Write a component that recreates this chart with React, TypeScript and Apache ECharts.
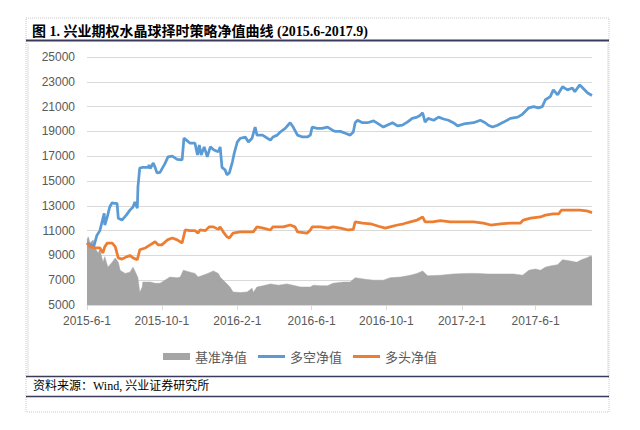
import React, { useEffect, useRef } from "react";
import * as echarts from "echarts";

const START_DAY = "2015-06-01";
const END_DAY = "2017-09-01";
const xTickLabels = ["2015-6-1", "2015-10-1", "2016-2-1", "2016-6-1", "2016-10-1", "2017-2-1", "2017-6-1"];
const seriesNames = ["基准净值", "多空净值", "多头净值"];

const benchmark: [string, number][] = [
  ["2015-06-01", 10250], ["2015-06-03", 10500], ["2015-06-06", 10000], ["2015-06-11", 10250], ["2015-06-14", 9600],
  ["2015-06-19", 9200], ["2015-06-22", 9450], ["2015-06-27", 8450], ["2015-06-30", 8900], ["2015-07-05", 8050],
  ["2015-07-12", 8450], ["2015-07-17", 8800], ["2015-07-22", 8450], ["2015-07-25", 7800], ["2015-08-02", 7550],
  ["2015-08-10", 7650], ["2015-08-15", 8050], ["2015-08-20", 7550], ["2015-08-23", 7200], ["2015-08-26", 6000],
  ["2015-08-30", 6450], ["2015-08-31", 6850], ["2015-09-12", 6850], ["2015-09-20", 6750], ["2015-09-28", 6750],
  ["2015-10-06", 7000], ["2015-10-14", 7250], ["2015-10-26", 7200], ["2015-10-31", 7250], ["2015-11-05", 7800],
  ["2015-11-16", 7650], ["2015-11-24", 7550], ["2015-11-29", 7250], ["2015-12-07", 7400], ["2015-12-15", 7550],
  ["2015-12-24", 7750], ["2016-01-01", 7550], ["2016-01-04", 7250], ["2016-01-12", 6850], ["2016-01-20", 6450],
  ["2016-01-25", 6050], ["2016-02-06", 6000], ["2016-02-17", 6050], ["2016-02-25", 6350], ["2016-02-27", 6000],
  ["2016-03-04", 6450], ["2016-03-14", 6550], ["2016-03-26", 6700], ["2016-04-08", 6600], ["2016-04-22", 6700],
  ["2016-05-05", 6550], ["2016-05-14", 6450], ["2016-05-30", 6450], ["2016-06-04", 6600], ["2016-06-15", 6550],
  ["2016-06-27", 6550], ["2016-07-06", 6750], ["2016-07-23", 6850], ["2016-08-03", 6850], ["2016-08-11", 7200],
  ["2016-08-24", 7100], ["2016-09-10", 7000], ["2016-09-26", 7000], ["2016-10-07", 7200], ["2016-10-24", 7250],
  ["2016-11-09", 7400], ["2016-11-20", 7550], ["2016-11-29", 7750], ["2016-12-07", 7350], ["2016-12-28", 7400],
  ["2017-01-18", 7500], ["2017-02-10", 7550], ["2017-02-26", 7550], ["2017-03-15", 7500], ["2017-04-05", 7500],
  ["2017-04-26", 7500], ["2017-05-11", 7400], ["2017-05-21", 7800], ["2017-06-01", 7900], ["2017-06-09", 7800],
  ["2017-06-17", 8050], ["2017-06-25", 8150], ["2017-07-07", 8250], ["2017-07-15", 8650], ["2017-07-28", 8550],
  ["2017-08-07", 8450], ["2017-08-15", 8650], ["2017-08-23", 8800], ["2017-08-30", 8950], ["2017-09-01", 8900],
];

const longShort: [string, number][] = [
  ["2015-06-01", 10000], ["2015-06-12", 9700], ["2015-06-17", 10600], ["2015-06-22", 11000], ["2015-06-29", 12400],
  ["2015-06-30", 11450], ["2015-07-04", 12100], ["2015-07-08", 12900], ["2015-07-12", 13250], ["2015-07-15", 13200],
  ["2015-07-20", 13200], ["2015-07-22", 12000], ["2015-07-28", 11850], ["2015-08-04", 12250], ["2015-08-10", 12650],
  ["2015-08-15", 12900], ["2015-08-18", 13300], ["2015-08-22", 12800], ["2015-08-23", 14500], ["2015-08-26", 16050],
  ["2015-08-31", 16100], ["2015-09-09", 16100], ["2015-09-10", 16300], ["2015-09-12", 16000], ["2015-09-17", 16450],
  ["2015-09-20", 16100], ["2015-09-23", 15650], ["2015-09-28", 15700], ["2015-10-06", 16400], ["2015-10-11", 16950],
  ["2015-10-18", 17000], ["2015-10-26", 16750], ["2015-11-03", 16700], ["2015-11-06", 18450], ["2015-11-10", 18300],
  ["2015-11-16", 18050], ["2015-11-24", 18050], ["2015-11-28", 17100], ["2015-12-01", 17900], ["2015-12-04", 17100],
  ["2015-12-09", 17750], ["2015-12-14", 16950], ["2015-12-19", 17750], ["2015-12-25", 17500], ["2016-01-01", 17350],
  ["2016-01-04", 17750], ["2016-01-07", 16100], ["2016-01-12", 15900], ["2016-01-15", 15500], ["2016-01-19", 15650],
  ["2016-01-24", 16550], ["2016-01-27", 17250], ["2016-02-01", 18150], ["2016-02-06", 18450], ["2016-02-14", 18550],
  ["2016-02-19", 18150], ["2016-02-25", 18450], ["2016-03-01", 19350], ["2016-03-04", 18700], ["2016-03-13", 18700],
  ["2016-03-21", 18450], ["2016-03-26", 18300], ["2016-03-30", 18550], ["2016-04-06", 18700], ["2016-04-11", 18950],
  ["2016-04-19", 19250], ["2016-04-27", 19700], ["2016-05-02", 19350], ["2016-05-09", 18700], ["2016-05-17", 18550],
  ["2016-05-25", 18550], ["2016-05-30", 18700], ["2016-06-02", 19350], ["2016-06-10", 19250], ["2016-06-18", 19250],
  ["2016-06-27", 19350], ["2016-07-05", 19100], ["2016-07-10", 19000], ["2016-07-18", 19000], ["2016-07-26", 18850],
  ["2016-08-03", 18700], ["2016-08-08", 18950], ["2016-08-11", 19700], ["2016-08-15", 19900], ["2016-08-23", 19700],
  ["2016-08-31", 19700], ["2016-09-10", 19850], ["2016-09-18", 19600], ["2016-09-26", 19350], ["2016-10-02", 19500],
  ["2016-10-11", 19700], ["2016-10-19", 19450], ["2016-10-27", 19500], ["2016-11-04", 19750], ["2016-11-12", 20050],
  ["2016-11-20", 20150], ["2016-11-25", 20300], ["2016-11-29", 20500], ["2016-12-03", 19750], ["2016-12-08", 20050],
  ["2016-12-17", 19900], ["2016-12-25", 20150], ["2017-01-02", 20000], ["2017-01-10", 19900], ["2017-01-18", 19700],
  ["2017-01-25", 19450], ["2017-02-04", 19600], ["2017-02-20", 19700], ["2017-03-03", 19900], ["2017-03-11", 19700],
  ["2017-03-16", 19500], ["2017-03-23", 19350], ["2017-03-31", 19500], ["2017-04-10", 19750], ["2017-04-21", 20050],
  ["2017-05-03", 20150], ["2017-05-11", 20400], ["2017-05-21", 20900], ["2017-05-29", 21000], ["2017-06-06", 20900],
  ["2017-06-12", 21000], ["2017-06-17", 21550], ["2017-06-25", 21800], ["2017-06-30", 22350], ["2017-07-07", 21950],
  ["2017-07-15", 22600], ["2017-07-23", 22350], ["2017-07-31", 22500], ["2017-08-04", 22200], ["2017-08-12", 22750],
  ["2017-08-17", 22500], ["2017-08-25", 22100], ["2017-09-01", 21900],
];

const longOnly: [string, number][] = [
  ["2015-06-01", 10000], ["2015-06-06", 9700], ["2015-06-14", 9600], ["2015-06-22", 9600], ["2015-06-27", 9200],
  ["2015-06-30", 9700], ["2015-07-04", 10000], ["2015-07-12", 10000], ["2015-07-17", 9700], ["2015-07-22", 8800],
  ["2015-07-28", 8700], ["2015-08-05", 8900], ["2015-08-10", 9000], ["2015-08-15", 8800], ["2015-08-22", 8650],
  ["2015-08-26", 9450], ["2015-09-04", 9600], ["2015-09-12", 9850], ["2015-09-20", 10100], ["2015-09-25", 9850],
  ["2015-10-01", 9850], ["2015-10-10", 10250], ["2015-10-18", 10400], ["2015-10-26", 10250], ["2015-11-03", 10000],
  ["2015-11-08", 11050], ["2015-11-16", 11000], ["2015-11-24", 11000], ["2015-11-29", 10800], ["2015-12-02", 11050],
  ["2015-12-11", 11000], ["2015-12-17", 11300], ["2015-12-24", 11300], ["2016-01-01", 11100], ["2016-01-04", 11300],
  ["2016-01-09", 10900], ["2016-01-15", 10500], ["2016-01-19", 10400], ["2016-01-25", 10800], ["2016-02-06", 10900],
  ["2016-02-17", 10900], ["2016-02-27", 10900], ["2016-03-04", 11300], ["2016-03-14", 11200], ["2016-03-26", 11050],
  ["2016-03-30", 11300], ["2016-04-16", 11300], ["2016-04-27", 11450], ["2016-05-05", 11300], ["2016-05-09", 10900],
  ["2016-05-25", 10800], ["2016-05-30", 11050], ["2016-06-02", 11300], ["2016-06-15", 11300], ["2016-06-28", 11200],
  ["2016-07-06", 11300], ["2016-07-18", 11200], ["2016-07-31", 11050], ["2016-08-08", 11100], ["2016-08-11", 11700],
  ["2016-08-23", 11600], ["2016-09-05", 11550], ["2016-09-18", 11350], ["2016-09-29", 11200], ["2016-10-07", 11300],
  ["2016-10-19", 11450], ["2016-10-29", 11550], ["2016-11-09", 11700], ["2016-11-20", 11850], ["2016-11-29", 12100],
  ["2016-12-03", 11700], ["2016-12-15", 11700], ["2016-12-28", 11800], ["2017-01-13", 11700], ["2017-01-30", 11700],
  ["2017-02-20", 11700], ["2017-03-08", 11600], ["2017-03-20", 11450], ["2017-04-05", 11550], ["2017-04-21", 11600],
  ["2017-05-07", 11600], ["2017-05-12", 11850], ["2017-05-24", 12000], ["2017-06-09", 12100], ["2017-06-17", 12250],
  ["2017-06-30", 12350], ["2017-07-09", 12350], ["2017-07-13", 12650], ["2017-07-28", 12650], ["2017-08-12", 12650],
  ["2017-08-23", 12600], ["2017-09-01", 12450],
];

function buildDays(start: string, end: string): string[] {
  const out: string[] = [];
  let t = Date.parse(start + "T00:00:00Z");
  const e = Date.parse(end + "T00:00:00Z");
  while (t <= e) {
    out.push(new Date(t).toISOString().slice(0, 10));
    t += 86400000;
  }
  return out;
}

function fmtDay(v: string): string {
  const [y, m, d] = v.split("-");
  return `${y}-${+m}-${+d}`;
}

const LINE_ICON = "path://M0,0M27,7M0,2H27V5H0Z";

export default function App() {
  const ref = useRef<HTMLDivElement>(null);
  useEffect(() => {
    if (!ref.current) return;
    const chart = echarts.init(ref.current, undefined, { renderer: "svg" });
    const days = buildDays(START_DAY, END_DAY);
    const tickSet = new Set(xTickLabels);
    const showTick = (_i: number, v: string) => tickSet.has(fmtDay(v));
    const axisFont = '"Liberation Sans", "Noto Sans", sans-serif';
    chart.setOption({
      animation: false,
      backgroundColor: "#ffffff",
      grid: { left: 87, right: 48, top: 57, bottom: 125, containLabel: false },
      xAxis: {
        type: "category",
        data: days,
        boundaryGap: false,
        axisLine: { lineStyle: { color: "#d9d9d9", width: 1 } },
        axisTick: { show: true, interval: showTick, length: 5, lineStyle: { color: "#d9d9d9" } },
        axisLabel: {
          interval: showTick,
          formatter: (v: string) => fmtDay(v),
          color: "#595959",
          fontSize: 12,
          fontFamily: axisFont,
          margin: 10,
        },
        splitLine: { show: false },
      },
      yAxis: {
        type: "value",
        min: 5000,
        max: 25000,
        interval: 2000,
        axisLine: { show: false },
        axisTick: { show: false },
        axisLabel: {
          color: "#595959",
          fontSize: 12,
          fontFamily: axisFont,
          margin: 12,
          formatter: (v: number) => String(v),
        },
        splitLine: { lineStyle: { color: "#d9d9d9", width: 1 } },
      },
      legend: {
        left: 158,
        top: 345,
        itemWidth: 27,
        itemHeight: 7,
        itemGap: 11,
        textStyle: { color: "#595959", fontSize: 13, fontFamily: '"Noto Sans CJK SC", sans-serif' },
        data: [
          { name: seriesNames[0], icon: "rect" },
          { name: seriesNames[1], icon: LINE_ICON },
          { name: seriesNames[2], icon: LINE_ICON },
        ],
      },
      series: [
        {
          name: seriesNames[0],
          type: "line",
          data: benchmark,
          showSymbol: false,
          symbol: "none",
          lineStyle: { width: 0.5, color: "#a5a5a5" },
          itemStyle: { color: "#a5a5a5" },
          areaStyle: { color: "#a5a5a5", opacity: 1, origin: "start" },
        },
        {
          name: seriesNames[1],
          type: "line",
          data: longShort,
          showSymbol: false,
          symbol: "none",
          lineStyle: { width: 2.75, color: "#5b9bd5" },
          itemStyle: { color: "#5b9bd5" },
        },
        {
          name: seriesNames[2],
          type: "line",
          data: longOnly,
          showSymbol: false,
          symbol: "none",
          lineStyle: { width: 2.75, color: "#ed7d31" },
          itemStyle: { color: "#ed7d31" },
        },
      ],
      graphic: [
        {
          type: "rect",
          shape: { x: 26, y: 18, width: 583, height: 394 },
          style: { fill: "none", stroke: "#c8c8c8", lineWidth: 1, lineDash: [1, 1] },
          silent: true,
        },
        {
          type: "text",
          x: 32,
          y: 31,
          style: {
            text: "图 1. 兴业期权水晶球择时策略净值曲线 (2015.6-2017.9)",
            font: 'bold 14px "Liberation Serif", "Noto Sans CJK SC", serif',
            fill: "#000000",
            verticalAlign: "middle",
          },
        },
        {
          type: "line",
          shape: { x1: 26, y1: 40.5, x2: 609, y2: 40.5 },
          style: { stroke: "#3a3a5a", lineWidth: 2 },
        },
        {
          type: "line",
          shape: { x1: 28, y1: 43, x2: 28, y2: 375 },
          style: { stroke: "#e0e0e0", lineWidth: 1 },
        },
        {
          type: "line",
          shape: { x1: 608, y1: 43, x2: 608, y2: 375 },
          style: { stroke: "#e0e0e0", lineWidth: 1 },
        },
        {
          type: "line",
          shape: { x1: 26, y1: 376.5, x2: 609, y2: 376.5 },
          style: { stroke: "#3a3a5a", lineWidth: 1.5 },
        },
        {
          type: "text",
          x: 33,
          y: 386,
          style: {
            text: "资料来源：Wind, 兴业证券研究所",
            font: '12px "Liberation Serif", "Noto Sans CJK SC", serif',
            fill: "#000000",
            verticalAlign: "middle",
          },
        },
        {
          type: "line",
          shape: { x1: 26, y1: 396.5, x2: 609, y2: 396.5 },
          style: { stroke: "#3a3a5a", lineWidth: 1.5 },
        },
      ],
    });
    return () => chart.dispose();
  }, []);
  return (
    <div
      ref={ref}
      style={{ position: "fixed", left: 0, top: 0, width: 640, height: 430, background: "#ffffff" }}
    />
  );
}
